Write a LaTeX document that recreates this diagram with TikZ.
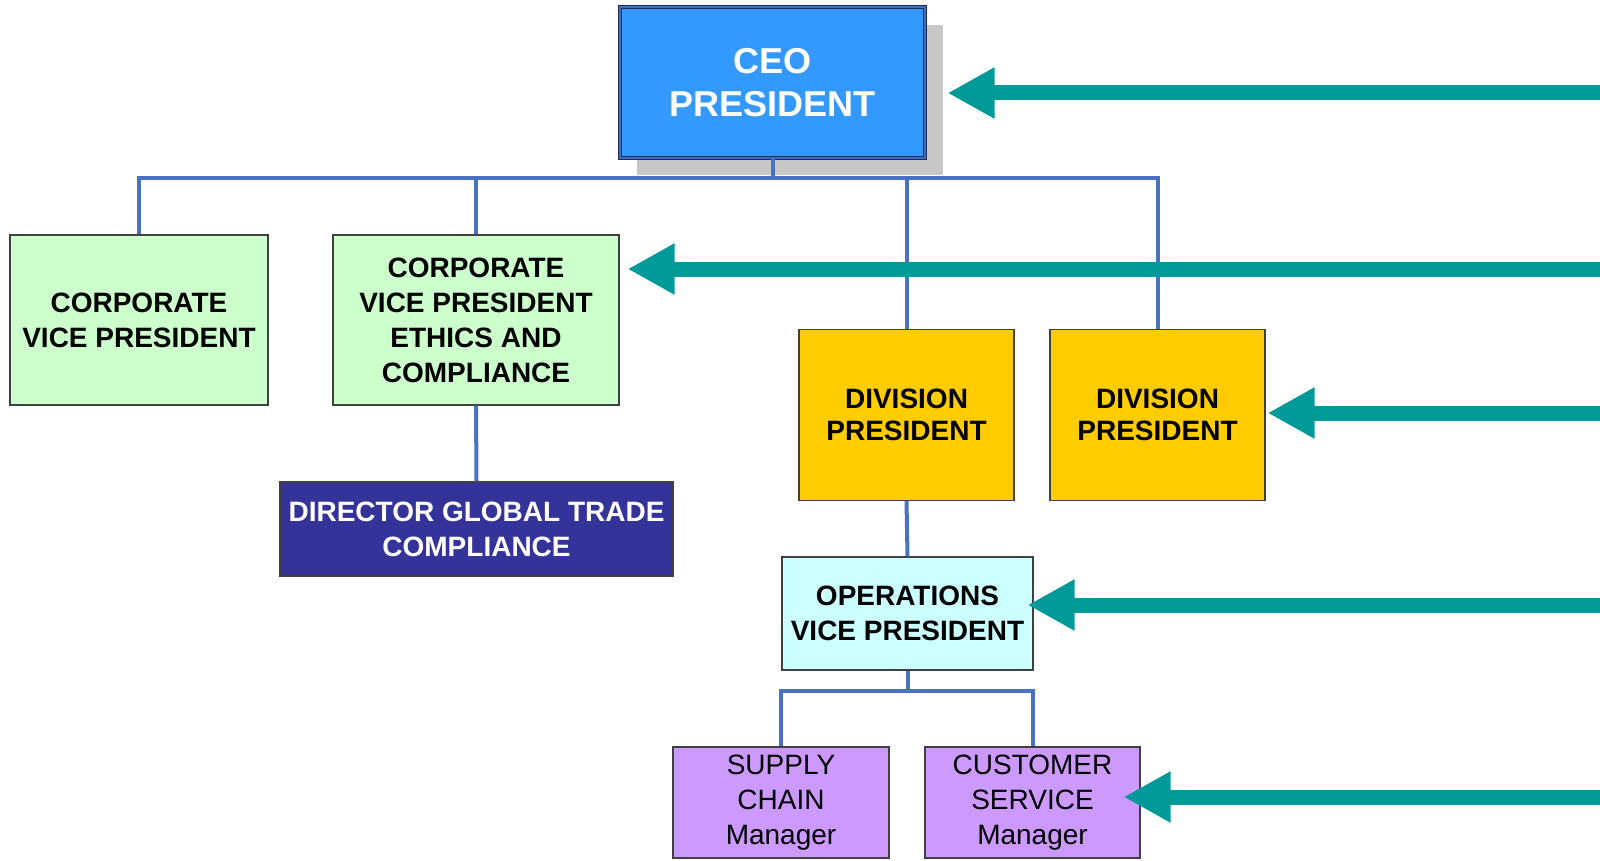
\documentclass[tikz,border=0pt]{standalone}
\usepackage{fontspec}
\setmainfont{Liberation Sans}
\usetikzlibrary{arrows.meta,calc}

\definecolor{ceoblue}{HTML}{3399FF}
\definecolor{ceoedge}{HTML}{1C2B5E}
\definecolor{ceoinner}{HTML}{3F6FB8}
\definecolor{shadowgray}{HTML}{C8C8C8}
\definecolor{boxedge}{HTML}{404040}
\definecolor{mint}{HTML}{CCFFCC}
\definecolor{navybox}{HTML}{333399}
\definecolor{gold}{HTML}{FFCC00}
\definecolor{paleaqua}{HTML}{CCFFFF}
\definecolor{lilac}{HTML}{CC99FF}
\definecolor{linkblue}{HTML}{4A72C4}
\definecolor{pointer}{HTML}{009999}

\tikzset{
  orgbox/.style={draw=boxedge, line width=1.3pt, inner sep=0pt, align=center,
    font=\fontsize{28}{35}\selectfont\bfseries},
  mgrbox/.style={orgbox, fill=lilac, font=\fontsize{28}{35}\selectfont},
  link/.style={draw=linkblue, line width=4pt},
  pointer arrow/.style={draw=pointer, line width=15pt,
    -{Triangle[length=47pt,width=48pt]}}
}

\begin{document}
\begin{tikzpicture}[x=1pt,y=-1pt]
\useasboundingbox (0,0) rectangle (1600,861);
\fill[white] (0,0) rectangle (1600,861);

% drop shadow behind the top box
\fill[shadowgray] (637,25) rectangle (943,175);

% boxes
\node[orgbox, draw=ceoedge, double=ceoinner, line width=1.2pt, double distance=1.4pt,
      fill=ceoblue, text=white, minimum width=305pt, minimum height=151pt,
      font=\fontsize{36}{43}\selectfont\bfseries]
  (ceo) at (772.5,82.5) {CEO\\PRESIDENT};

\node[orgbox, fill=mint, minimum width=258pt, minimum height=170pt]
  (cvp1) at (139,320) {CORPORATE\\VICE PRESIDENT};
\node[orgbox, fill=mint, minimum width=286pt, minimum height=170pt]
  (cvp2) at (476,320) {CORPORATE\\VICE PRESIDENT\\ETHICS AND\\COMPLIANCE};
\node[orgbox, fill=navybox, text=white, minimum width=393pt, minimum height=94pt]
  (dir) at (476.5,529) {DIRECTOR GLOBAL TRADE\\COMPLIANCE};

\node[orgbox, fill=gold, minimum width=215pt, minimum height=171pt,
      font=\fontsize{28}{32}\selectfont\bfseries]
  (div1) at (906.5,415) {DIVISION\\PRESIDENT};
\node[orgbox, fill=gold, minimum width=215pt, minimum height=171pt,
      font=\fontsize{28}{32}\selectfont\bfseries]
  (div2) at (1157.5,415) {DIVISION\\PRESIDENT};

\node[orgbox, fill=paleaqua, minimum width=251pt, minimum height=113pt]
  (ops) at (907.5,613.5) {OPERATIONS\\VICE PRESIDENT};

\node[mgrbox, minimum width=216pt, minimum height=111pt]
  (scm) at (781,802.5) {SUPPLY\\CHAIN\\Manager};
\node[mgrbox, minimum width=215pt, minimum height=111pt]
  (csm) at (1032.5,802.5) {CUSTOMER\\SERVICE\\Manager};

% reporting lines
\path (ceo.south) ++(0,19) coordinate (bus);
\draw[link] (ceo.south) -- (bus);
\draw[link] (cvp1.north) |- (bus) -| (div2.north);
\draw[link] (cvp2.north) -- (cvp2.north |- bus);
\draw[link] (div1.north) -- (div1.north |- bus);
\draw[link] (cvp2.south) -- (dir.north);
\draw[link] (div1.south) -- (ops.north);
\path (ops.south) ++(0,20) coordinate (obus);
\draw[link] (ops.south) -- (obus);
\draw[link] (scm.north) |- (obus) -| (csm.north);

% pointers from the right margin
\coordinate (a1) at (1600,93);
\coordinate (a2) at (1600,269);
\coordinate (a3) at (1600,413);
\coordinate (a4) at (1600,605);
\coordinate (a5) at (1600,797);
\draw[pointer arrow] (a1) -- ($(a1 -| ceo.east)+(22,0)$);
\draw[pointer arrow] (a2) -- ($(a2 -| cvp2.east)+(8,0)$);
\draw[pointer arrow] (a3) -- ($(a3 -| div2.east)+(2,0)$);
\draw[pointer arrow] (a4) -- ($(a4 -| ops.east)+(-6,0)$);
\draw[pointer arrow] (a5) -- ($(a5 -| csm.east)+(-17,0)$);
\end{tikzpicture}
\end{document}
